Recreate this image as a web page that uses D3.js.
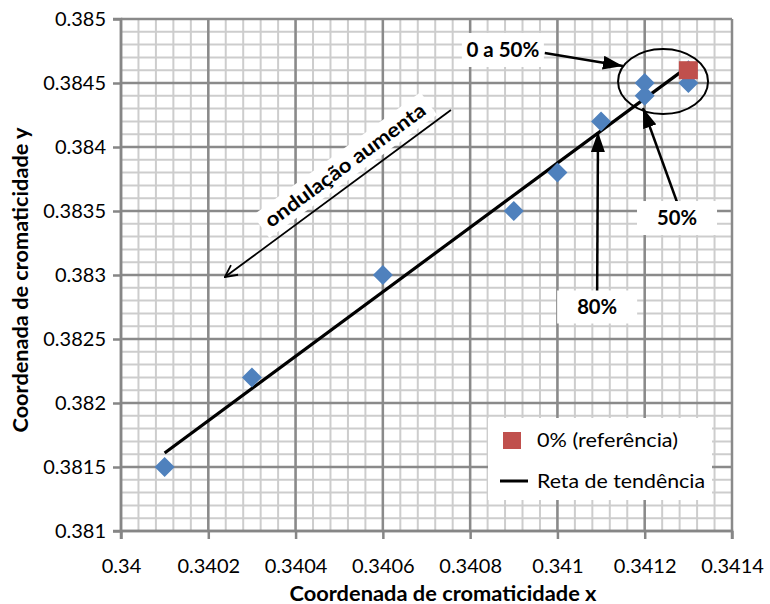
<!DOCTYPE html>
<html><head><meta charset="utf-8">
<script src="https://cdn.jsdelivr.net/npm/d3@7"></script>
<style>body{margin:0;background:#fff}svg{display:block}</style>
</head><body><svg id="c" width="770" height="604"></svg>
<script>
const xTicks = [0.34, 0.3402, 0.3404, 0.3406, 0.3408, 0.341, 0.3412, 0.3414];
const yTicks = [0.381, 0.3815, 0.382, 0.3825, 0.383, 0.3835, 0.384, 0.3845, 0.385];
const xTickLabels = ["0.34","0.3402","0.3404","0.3406","0.3408","0.341","0.3412","0.3414"];
const yTickLabels = ["0.381","0.3815","0.382","0.3825","0.383","0.3835","0.384","0.3845","0.385"];
const seriesX = [0.3401, 0.3403, 0.3406, 0.3409, 0.3410, 0.3411, 0.3412, 0.3412, 0.3413, 0.3413];
const seriesY = [0.3815, 0.3822, 0.3830, 0.3835, 0.3838, 0.3842, 0.3845, 0.3844, 0.3845, 0.3846];
const refX = [0.3413];
const refY = [0.3846];
const trendX = [0.3401, 0.3413];
const trendY = [0.38161, 0.38463];
const legendLabels = ["0% (referência)", "Reta de tendência"];
const xTitle = "Coordenada de cromaticidade x";
const yTitle = "Coordenada de cromaticidade y";

const svg = d3.select("#c");
const FONT = "Lato, 'Open Sans', sans-serif";
const L = 121, R = 732, T = 19, B = 531;
const x = d3.scaleLinear().domain([0.34, 0.3414]).range([L, R]);
const y = d3.scaleLinear().domain([0.381, 0.385]).range([B, T]);

svg.append("rect").attr("width", 770).attr("height", 604).attr("fill", "#fff");

// minor grid
const minorX = d3.range(0, 36).map(i => 0.34 + i * 0.00004);
const minorY = d3.range(0, 41).map(i => 0.381 + i * 0.0001);
const g = svg.append("g");
g.selectAll(".mx").data(minorX).join("line")
  .attr("x1", d => x(d)).attr("x2", d => x(d)).attr("y1", T).attr("y2", B)
  .attr("stroke", "#cdcdcd").attr("stroke-width", 2);
g.selectAll(".my").data(minorY).join("line")
  .attr("y1", d => y(d)).attr("y2", d => y(d)).attr("x1", L).attr("x2", R)
  .attr("stroke", "#cdcdcd").attr("stroke-width", 2);
// major grid
g.selectAll(".Mx").data(xTicks).join("line")
  .attr("x1", d => x(d)).attr("x2", d => x(d)).attr("y1", T).attr("y2", B)
  .attr("stroke", "#8a8a8a").attr("stroke-width", 2.5);
g.selectAll(".My").data(yTicks).join("line")
  .attr("y1", d => y(d)).attr("y2", d => y(d)).attr("x1", L).attr("x2", R)
  .attr("stroke", "#8a8a8a").attr("stroke-width", 2.5);

// axes
const xAxis = d3.axisBottom(x).tickValues(xTicks).tickFormat((d, i) => xTickLabels[i]).tickSize(8).tickPadding(20);
const yAxis = d3.axisLeft(y).tickValues(yTicks).tickFormat((d, i) => yTickLabels[i]).tickSize(8).tickPadding(7);
const gx = svg.append("g").attr("transform", `translate(0,${B})`).call(xAxis);
const gy = svg.append("g").attr("transform", `translate(${L},0)`).call(yAxis);
[gx, gy].forEach(a => {
  a.select(".domain").attr("stroke", "#868686").attr("stroke-width", 2.5);
  a.selectAll(".tick line").attr("stroke", "#868686").attr("stroke-width", 2.5);
  a.selectAll("text").attr("font-family", FONT).attr("font-size", 20).attr("fill", "#000");
});
gx.select(".domain").attr("d", `M${L},8V0H${R}V8`);
gy.select(".domain").attr("d", `M-8,${B}H0V${T}H-8`);

// titles
svg.append("text").attr("x", 443).attr("y", 601).attr("text-anchor", "middle")
  .attr("font-family", FONT).attr("font-weight", "bold").attr("font-size", 20)
  .attr("textLength", 307).attr("lengthAdjust", "spacingAndGlyphs").text(xTitle);
svg.append("text").attr("transform", "translate(28,280) rotate(-90)").attr("text-anchor", "middle")
  .attr("font-family", FONT).attr("font-weight", "bold").attr("font-size", 20)
  .attr("textLength", 305).attr("lengthAdjust", "spacingAndGlyphs").text(yTitle);

// markers defs
const defs = svg.append("defs");
defs.append("marker").attr("id", "ah").attr("viewBox", "0 0 20 14")
  .attr("refX", 20).attr("refY", 7).attr("markerWidth", 20).attr("markerHeight", 14)
  .attr("markerUnits", "userSpaceOnUse").attr("orient", "auto")
  .append("path").attr("d", "M0,0L20,7L0,14Z").attr("fill", "#000");
defs.append("marker").attr("id", "av").attr("viewBox", "0 0 14 14")
  .attr("refX", 13).attr("refY", 7).attr("markerWidth", 14).attr("markerHeight", 14)
  .attr("markerUnits", "userSpaceOnUse").attr("orient", "auto")
  .append("path").attr("d", "M1,1L13,7L1,13").attr("fill", "none").attr("stroke", "#000").attr("stroke-width", 1.8);

// trend line
const trend = trendX.map((d, i) => [d, trendY[i]]);
svg.append("path").datum(trend)
  .attr("d", d3.line().x(d => x(d[0])).y(d => y(d[1])))
  .attr("stroke", "#000").attr("stroke-width", 3.2).attr("fill", "none");

// series diamonds
const pts = seriesX.map((d, i) => [d, seriesY[i]]);
svg.selectAll(".dm").data(pts).join("path")
  .attr("transform", d => `translate(${x(d[0])},${y(d[1])})`)
  .attr("d", "M0,-10L10,0L0,10L-10,0Z")
  .attr("fill", "#4f81bd");

// reference square
const ref = refX.map((d, i) => [d, refY[i]]);
svg.selectAll(".sq").data(ref).join("rect")
  .attr("x", d => x(d[0]) - 9.5).attr("y", d => y(d[1]) - 9)
  .attr("width", 19).attr("height", 18).attr("fill", "#c0504d");

// ellipse around the cluster
svg.append("ellipse").attr("cx", x(0.341242)).attr("cy", y(0.384512))
  .attr("rx", 45).attr("ry", 32.5).attr("fill", "none").attr("stroke", "#000").attr("stroke-width", 2);

// callout arrows
function arrow(x1, y1, x2, y2, m, w) {
  svg.append("line").attr("x1", x(x1)).attr("y1", y(y1)).attr("x2", x(x2)).attr("y2", y(y2))
    .attr("stroke", "#000").attr("stroke-width", w).attr("marker-end", `url(#${m})`);
}
arrow(0.340971, 0.384734, 0.341150, 0.384633, "ah", 2.5);
arrow(0.341274, 0.383570, 0.341196, 0.384305, "ah", 2.5);
arrow(0.341091, 0.382875, 0.341093, 0.384117, "ah", 2.5);
arrow(0.340756, 0.384289, 0.340238, 0.382984, "av", 1.8);

// callout labels
function label(cx, cy, txt, w, h, tl) {
  const px = x(cx), py = y(cy);
  svg.append("rect").attr("x", px - w / 2).attr("y", py - h / 2).attr("width", w).attr("height", h).attr("fill", "#fff");
  svg.append("text").attr("x", px).attr("y", py).attr("dy", "0.36em").attr("text-anchor", "middle")
    .attr("font-family", FONT).attr("font-weight", "bold").attr("font-size", 20)
    .attr("textLength", tl).attr("lengthAdjust", "spacingAndGlyphs").text(txt);
}
label(0.340875, 0.384758, "0 a 50%", 82, 34, 73);
label(0.341274, 0.383445, "50%", 80, 34, 40);
label(0.341091, 0.382750, "80%", 80, 33, 40);

// rotated label
{
  const px = x(0.340513), py = y(0.383859);
  const gg = svg.append("g").attr("transform", `translate(${px},${py}) rotate(-36.3)`);
  gg.append("rect").attr("x", -104).attr("y", -14).attr("width", 208).attr("height", 28).attr("fill", "#fff");
  gg.append("text").attr("text-anchor", "middle").attr("dy", "0.36em")
    .attr("font-family", FONT).attr("font-weight", "bold").attr("font-size", 20)
    .attr("textLength", 194).attr("lengthAdjust", "spacingAndGlyphs").text("ondulação aumenta");
}

// legend
const lg = svg.append("g");
lg.append("rect").attr("x", 488).attr("y", 418).attr("width", 224).attr("height", 82).attr("fill", "#fff");
lg.append("rect").attr("x", 503).attr("y", 432).attr("width", 18).attr("height", 17).attr("fill", "#c0504d");
lg.append("line").attr("x1", 500).attr("x2", 528).attr("y1", 481).attr("y2", 481).attr("stroke", "#000").attr("stroke-width", 3);
const legendLen = [141, 168];
lg.selectAll(".lt").data(legendLabels).join("text")
  .attr("x", 537).attr("y", (d, i) => 440 + i * 41).attr("dy", "0.36em")
  .attr("font-family", FONT).attr("font-size", 20).attr("fill", "#000")
  .attr("textLength", (d, i) => legendLen[i]).attr("lengthAdjust", "spacingAndGlyphs").text(d => d);
</script></body></html>
